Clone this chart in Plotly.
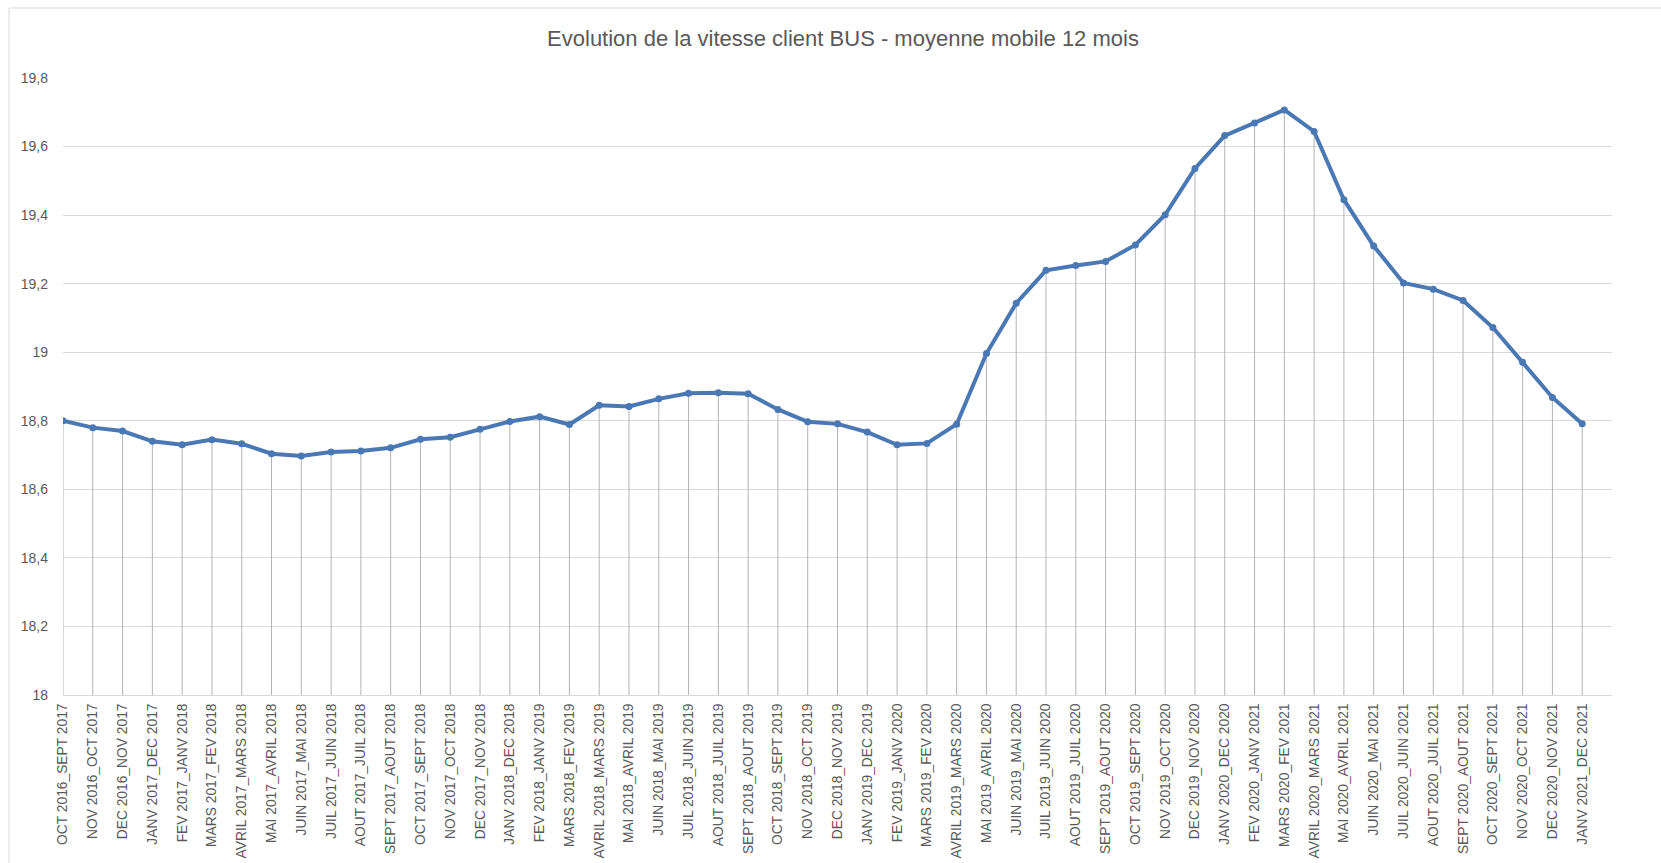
import plotly.graph_objects as go

# Rolling 12-month periods (start month _ end month)
periods = [
    "OCT 2016_SEPT 2017", "NOV 2016_OCT 2017", "DEC 2016_NOV 2017", "JANV 2017_DEC 2017",
    "FEV 2017_JANV 2018", "MARS 2017_FEV 2018", "AVRIL 2017_MARS 2018", "MAI 2017_AVRIL 2018",
    "JUIN 2017_MAI 2018", "JUIL 2017_JUIN 2018", "AOUT 2017_JUIL 2018", "SEPT 2017_AOUT 2018",
    "OCT 2017_SEPT 2018", "NOV 2017_OCT 2018", "DEC 2017_NOV 2018", "JANV 2018_DEC 2018",
    "FEV 2018_JANV 2019", "MARS 2018_FEV 2019", "AVRIL 2018_MARS 2019", "MAI 2018_AVRIL 2019",
    "JUIN 2018_MAI 2019", "JUIL 2018_JUIN 2019", "AOUT 2018_JUIL 2019", "SEPT 2018_AOUT 2019",
    "OCT 2018_SEPT 2019", "NOV 2018_OCT 2019", "DEC 2018_NOV 2019", "JANV 2019_DEC 2019",
    "FEV 2019_JANV 2020", "MARS 2019_FEV 2020", "AVRIL 2019_MARS 2020", "MAI 2019_AVRIL 2020",
    "JUIN 2019_MAI 2020", "JUIL 2019_JUIN 2020", "AOUT 2019_JUIL 2020", "SEPT 2019_AOUT 2020",
    "OCT 2019_SEPT 2020", "NOV 2019_OCT 2020", "DEC 2019_NOV 2020", "JANV 2020_DEC 2020",
    "FEV 2020_JANV 2021", "MARS 2020_FEV 2021", "AVRIL 2020_MARS 2021", "MAI 2020_AVRIL 2021",
    "JUIN 2020_MAI 2021", "JUIL 2020_JUIN 2021", "AOUT 2020_JUIL 2021", "SEPT 2020_AOUT 2021",
    "OCT 2020_SEPT 2021", "NOV 2020_OCT 2021", "DEC 2020_NOV 2021", "JANV 2021_DEC 2021",
]

# Commercial speed of buses (km/h), 12-month moving average
vitesse = [
    18.80, 18.78, 18.77, 18.74, 18.73, 18.745, 18.733, 18.704, 18.697, 18.709,
    18.712, 18.721, 18.746, 18.752, 18.775, 18.798, 18.812, 18.789, 18.845, 18.842,
    18.864, 18.880, 18.882, 18.879, 18.833, 18.797, 18.791, 18.767, 18.730, 18.734,
    18.790, 18.996, 19.143, 19.239, 19.253, 19.265, 19.313, 19.401, 19.536, 19.632,
    19.669, 19.707, 19.644, 19.445, 19.310, 19.202, 19.184, 19.151, 19.072, 18.971,
    18.868, 18.791,
]

y_ticks = [18.0, 18.2, 18.4, 18.6, 18.8, 19.0, 19.2, 19.4, 19.6, 19.8]
y_min, y_max = 18.0, 19.8

idx = list(range(len(periods)))

# Drop lines from each point down to the axis floor
drop_x, drop_y = [], []
for i, v in zip(idx, vitesse):
    drop_x += [i, i, None]
    drop_y += [v, y_min, None]

BLUE = "#4a78b4"
TEXT = "#595959"
GRID = "#d9d9d9"

fig = go.Figure()
fig.add_trace(go.Scatter(
    x=drop_x, y=drop_y, mode="lines",
    line=dict(color="#b4b4b4", width=1),
    hoverinfo="skip", showlegend=False,
))
fig.add_trace(go.Scatter(
    x=idx, y=vitesse, mode="lines+markers",
    line=dict(color=BLUE, width=4),
    marker=dict(color=BLUE, size=7, symbol="circle"),
    customdata=periods,
    hovertemplate="%{customdata}<br>%{y:.2f}<extra></extra>",
    showlegend=False,
))

W, H = 1661, 863
ml, mr, mt, mb = 63, 49, 78, 168
pw, ph = W - ml - mr, H - mt - mb

def px_to_paper_x(px):
    return (px - ml) / pw

def px_to_paper_y(py):
    return (H - mb - py) / ph

fig.update_layout(
    width=W, height=H,
    margin=dict(l=ml, r=mr, t=mt, b=mb, pad=0, autoexpand=False),
    paper_bgcolor="white", plot_bgcolor="white",
    separators=", ",
    font=dict(family="Liberation Sans, Arial, sans-serif", color=TEXT, size=14),
    title=dict(
        text="Evolution de la vitesse client BUS - moyenne mobile 12 mois",
        x=px_to_paper_x(843), xref="paper", xanchor="center",
        y=1 - 38 / H, yref="container", yanchor="middle",
        font=dict(size=22, color=TEXT),
    ),
    xaxis=dict(
        range=[0, len(periods)],
        tickmode="array", tickvals=idx, ticktext=periods,
        tickangle=-90, tickfont=dict(size=13.8, color=TEXT),
        showgrid=False, zeroline=False,
        showline=True, linecolor=GRID, linewidth=1,
        ticks="", ticklabelstandoff=2, automargin=False,
        fixedrange=True,
    ),
    yaxis=dict(
        range=[y_min, y_max],
        tickmode="array", tickvals=y_ticks,
        tickfont=dict(size=14, color=TEXT),
        showgrid=True, gridcolor=GRID, gridwidth=1,
        zeroline=False, showline=False, ticks="",
        ticklabelstandoff=14, automargin=False,
        fixedrange=True,
    ),
    shapes=[dict(
        type="rect", xref="paper", yref="paper",
        x0=px_to_paper_x(9), x1=px_to_paper_x(W + 10),
        y0=px_to_paper_y(H + 10), y1=px_to_paper_y(8),
        line=dict(color=GRID, width=1), fillcolor="rgba(0,0,0,0)",
        layer="below",
    )],
)

fig.write_html("out.html")
